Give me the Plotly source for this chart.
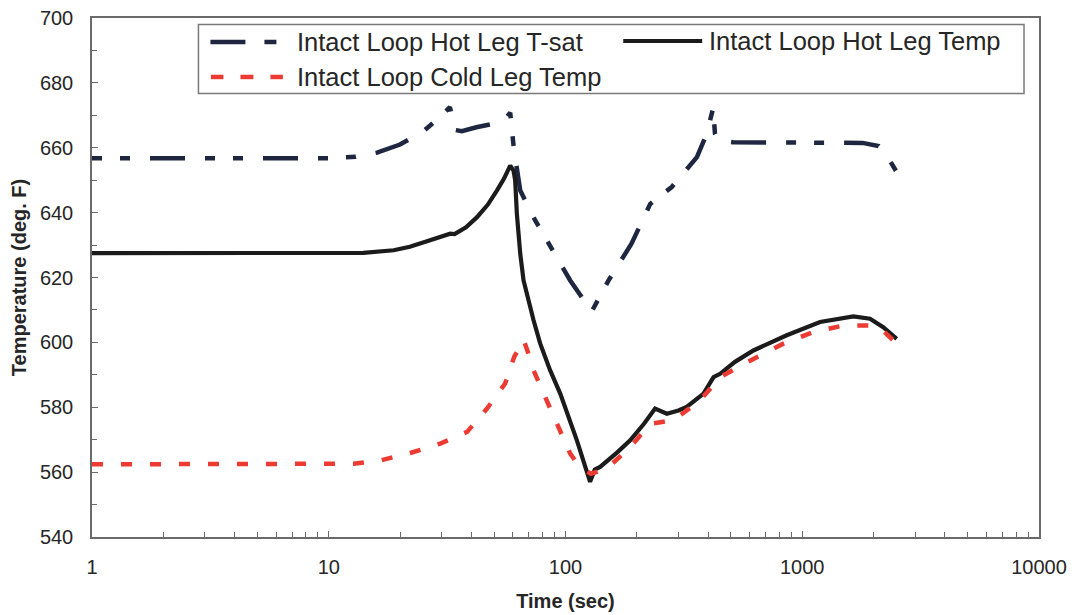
import plotly.graph_objects as go

# ---- data -------------------------------------------------------------
tsat_time = [1, 5, 10, 13, 16, 20, 25, 29, 32.5, 34, 36.5, 42, 49.5, 55, 58.4,
             60.5, 64.4, 74.5, 84.8, 104.7, 129, 152, 190, 228, 281, 359, 395,
             420, 428, 440, 510, 1000, 1800, 2100, 2300, 2506]
tsat_temp = [656.8, 656.8, 656.8, 657.2, 658.5, 661, 665, 669, 672.5, 665.5,
             665.1, 666.3, 667.4, 668.5, 670.8, 659.8, 646.8, 637.6, 630.4,
             619.1, 609.5, 619.1, 630.4, 642.7, 647.9, 657.1, 664.3, 672.1,
             664.3, 662.3, 661.7, 661.5, 661.5, 660.5, 657.0, 652.5]

hot_time = [1, 10, 14, 18.8, 22, 26, 30, 32.6, 34, 38, 42.3, 47, 51.3, 55, 58.4,
            60.3, 61.3, 62.3, 64.4, 66.5, 73.3, 78.2, 86, 95, 111.7, 123, 127,
            133, 140, 165, 187.6, 215, 239, 268, 300, 325, 383, 422, 450, 520,
            622, 860, 1189, 1643, 1933, 2198, 2506]
hot_temp = [627.5, 627.5, 627.6, 628.4, 629.5, 631.2, 632.8, 633.5, 633.4,
            635.5, 638.6, 642.5, 646.8, 650.5, 654.5, 653.0, 649.9, 639.7,
            627.3, 619.1, 606.8, 599.6, 591.5, 584.2, 569.8, 560.0, 557.0,
            560.8, 561.6, 566.0, 569.8, 575.0, 579.6, 578.0, 579.0, 580.1,
            584.2, 589.3, 590.3, 594.0, 597.5, 602.2, 606.3, 608.0, 607.3,
            604.7, 601.1]

cold_time = [1, 10, 12.7, 16.5, 22.1, 29.6, 38.4, 46.6, 55.6, 60.7, 66.5, 69,
             73.3, 82, 93.4, 104.7, 115, 128, 149.5, 187.6, 228, 286, 370, 450,
             622, 832, 1114, 1492, 1963, 2200, 2466]
cold_temp = [562.4, 562.4, 562.6, 563.6, 565.9, 568.8, 572.4, 579.6, 587.3,
             595.5, 600.8, 597.5, 591.4, 583.2, 573.9, 565.7, 561.5, 559.5,
             561.1, 567.7, 574.9, 576.0, 582.1, 589.3, 594.9, 599.6, 603.2,
             605.2, 605.2, 603.5, 600.1]

series_names = ["Intact Loop Hot Leg T-sat",
                "Intact Loop Hot Leg Temp",
                "Intact Loop Cold Leg Temp"]

y_ticks = [540, 560, 580, 600, 620, 640, 660, 680, 700]
x_ticks = [1, 10, 100, 1000, 10000]

# ---- styling ------------------------------------------------------------
NAVY = "#1f2740"
BLACK = "#1b1b1b"
RED = "#ec3b33"
AXIS = "#6a6a6a"
TEXT = "#262626"
FONT = "Liberation Sans, Arial, sans-serif"

W, H = 1075, 615
ML, MR, MT, MB = 91.5, 36, 17.5, 78.3
PW, PH = W - ML - MR, H - MT - MB

TSAT_DASH = "10px,18px,10px,20px,35px,20px"
COLD_DASH = "11px,18px"


def px_x(px):
    return (px - ML) / PW


def px_y(py):
    return (H - MB - py) / PH


fig = go.Figure()
fig.add_trace(go.Scatter(x=tsat_time, y=tsat_temp, mode="lines",
                         name=series_names[0], showlegend=False,
                         line=dict(color=NAVY, width=4.5, dash=TSAT_DASH)))
fig.add_trace(go.Scatter(x=hot_time, y=hot_temp, mode="lines",
                         name=series_names[1], showlegend=False,
                         line=dict(color=BLACK, width=4.2)))
fig.add_trace(go.Scatter(x=cold_time, y=cold_temp, mode="lines",
                         name=series_names[2], showlegend=False,
                         line=dict(color=RED, width=4.5, dash=COLD_DASH)))

# ---- legend box drawn as shapes + text ----------------------------------
shapes = [
    dict(type="rect", xref="paper", yref="paper",
         x0=px_x(198), x1=px_x(1024), y0=px_y(93), y1=px_y(24),
         line=dict(color="#7a7a7a", width=1.5), fillcolor="white", layer="above"),
    # T-sat sample: long dash + short dash
    dict(type="line", xref="paper", yref="paper",
         x0=px_x(210), x1=px_x(245), y0=px_y(41.5), y1=px_y(41.5),
         line=dict(color=NAVY, width=4.5), layer="above"),
    dict(type="line", xref="paper", yref="paper",
         x0=px_x(264), x1=px_x(276), y0=px_y(41.5), y1=px_y(41.5),
         line=dict(color=NAVY, width=4.5), layer="above"),
    # hot leg temp sample: solid
    dict(type="line", xref="paper", yref="paper",
         x0=px_x(623), x1=px_x(702), y0=px_y(40.5), y1=px_y(40.5),
         line=dict(color=BLACK, width=4.2), layer="above"),
]
for a, b in [(210.5, 223), (240, 253), (270, 282.5)]:
    shapes.append(dict(type="line", xref="paper", yref="paper",
                       x0=px_x(a), x1=px_x(b), y0=px_y(76.5), y1=px_y(76.5),
                       line=dict(color=RED, width=4.5), layer="above"))

annotations = []
for name, (tx, ty) in zip(series_names, [(295, 41.5), (707, 40.5), (295, 76.5)]):
    annotations.append(dict(text=name, xref="paper", yref="paper",
                            x=px_x(tx), y=px_y(ty), xanchor="left",
                            yanchor="middle", showarrow=False,
                            font=dict(family=FONT, size=25.5, color=TEXT)))

fig.update_layout(
    width=W, height=H,
    margin=dict(l=ML, r=MR, t=MT, b=MB, pad=0, autoexpand=False),
    paper_bgcolor="white", plot_bgcolor="white",
    font=dict(family=FONT, color=TEXT),
    shapes=shapes, annotations=annotations,
    showlegend=False,
)

fig.update_xaxes(
    type="log", range=[0, 4], automargin=False,
    tickvals=x_ticks, ticktext=[str(v) for v in x_ticks],
    ticks="inside", ticklen=6, tickwidth=1.2, tickcolor=AXIS,
    minor=dict(ticks="inside", ticklen=5, tickwidth=1, tickcolor=AXIS,
               dtick="D1", showgrid=False),
    showline=True, linecolor=AXIS, linewidth=1.5, mirror=True,
    showgrid=False, zeroline=False,
    tickfont=dict(family=FONT, size=20, color=TEXT),
    ticklabelstandoff=11,
    title=dict(text="<b>Time (sec)</b>", standoff=17,
               font=dict(family=FONT, size=20, color=TEXT)),
)
fig.update_yaxes(
    range=[540, 700], automargin=False,
    tickvals=y_ticks,
    ticks="inside", ticklen=6, tickwidth=1.2, tickcolor=AXIS,
    minor=dict(ticks="inside", ticklen=5, tickwidth=1, tickcolor=AXIS,
               dtick=10, showgrid=False),
    showline=True, linecolor=AXIS, linewidth=1.5, mirror=True,
    showgrid=False, zeroline=False,
    tickfont=dict(family=FONT, size=20, color=TEXT),
    ticklabelstandoff=13,
    title=dict(text="<b>Temperature (deg. F)</b>", standoff=8,
               font=dict(family=FONT, size=20, color=TEXT)),
)

fig.write_html("out.html")
